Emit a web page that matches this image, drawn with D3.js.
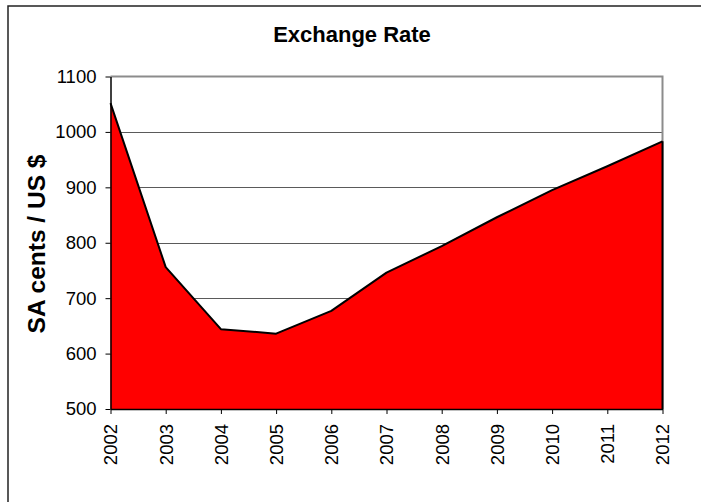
<!DOCTYPE html>
<html>
<head>
<meta charset="utf-8">
<script src="https://cdn.jsdelivr.net/npm/d3@7"></script>
<style>
  body { margin: 0; background: #fff; }
  text { font-family: "Liberation Sans", Arial, sans-serif; }
</style>
</head>
<body>
<div id="chart"></div>
<script>
var years = [2002, 2003, 2004, 2005, 2006, 2007, 2008, 2009, 2010, 2011, 2012];
var rates = [1052, 756, 644, 636, 677, 746, 794, 846, 895, 938, 983];
var yTicks = [500, 600, 700, 800, 900, 1000, 1100];

var width = 701, height = 502;
var plotLeft = 110.5, plotRight = 662.5, plotTop = 76.5, plotBottom = 409;

var svg = d3.select("#chart").append("svg")
    .attr("width", width).attr("height", height);

// outer frame (right/bottom edges fall off the picture)
svg.append("rect")
    .attr("x", 8).attr("y", 6)
    .attr("width", 720).attr("height", 520)
    .attr("fill", "none").attr("stroke", "#222").attr("stroke-width", 1.5);

var x = d3.scalePoint().domain(years).range([plotLeft, plotRight]);
var y = d3.scaleLinear().domain([500, 1100]).range([plotBottom, plotTop]);

// gridlines
svg.append("g").selectAll("line")
    .data(yTicks.slice(1, -1))
    .join("line")
    .attr("x1", plotLeft).attr("x2", plotRight)
    .attr("y1", function (d) { return Math.round(y(d)) + 0.5; })
    .attr("y2", function (d) { return Math.round(y(d)) + 0.5; })
    .attr("stroke", "#5a5a5a").attr("stroke-width", 1);

// plot frame top/right in grey
svg.append("path")
    .attr("d", "M" + plotLeft + "," + plotTop + "H" + plotRight + "V" + plotBottom)
    .attr("fill", "none").attr("stroke", "#8c8c8c").attr("stroke-width", 2);

var area = d3.area()
    .x(function (d, i) { return x(years[i]); })
    .y0(y(500))
    .y1(function (d) { return y(d); });

svg.append("path")
    .datum(rates)
    .attr("d", area)
    .attr("fill", "#ff0000");

var line = d3.line()
    .x(function (d, i) { return x(years[i]); })
    .y(function (d) { return y(d); });

svg.append("path")
    .datum(rates)
    .attr("d", line)
    .attr("fill", "none").attr("stroke", "#000").attr("stroke-width", 2)
    .attr("stroke-linejoin", "round");

// right edge of area
svg.append("line")
    .attr("x1", plotRight).attr("x2", plotRight)
    .attr("y1", y(rates[rates.length - 1])).attr("y2", plotBottom)
    .attr("stroke", "#000").attr("stroke-width", 2);

// y axis
var yAxis = svg.append("g")
    .attr("transform", "translate(" + plotLeft + ",0)")
    .call(d3.axisLeft(y).tickValues(yTicks).tickFormat(d3.format("d"))
        .tickSize(5).tickSizeOuter(0).tickPadding(9));
yAxis.select(".domain").attr("stroke", "#000").attr("stroke-width", 1.5);
yAxis.selectAll(".tick line").attr("stroke", "#000");
yAxis.selectAll("text")
    .attr("font-size", 18.5).attr("fill", "#000")
    .attr("font-family", "Liberation Sans, Arial, sans-serif");

// x axis
var xAxis = svg.append("g")
    .attr("transform", "translate(0," + plotBottom + ")")
    .call(d3.axisBottom(x).tickFormat(d3.format("d")).tickSize(5).tickSizeOuter(0));
xAxis.select(".domain").attr("stroke", "#000").attr("stroke-width", 1.5);
xAxis.selectAll(".tick line").attr("stroke", "#000");
xAxis.selectAll("text")
    .attr("font-size", 18.5).attr("fill", "#000")
    .attr("font-family", "Liberation Sans, Arial, sans-serif")
    .attr("transform", "rotate(-90)")
    .attr("text-anchor", "end")
    .attr("x", -15).attr("y", 0)
    .attr("dy", "0.35em");

// title
svg.append("text")
    .attr("x", 352).attr("y", 42)
    .attr("text-anchor", "middle")
    .attr("font-size", 22).attr("font-weight", "bold")
    .text("Exchange Rate");

// y axis title
svg.append("text")
    .attr("transform", "translate(45,244) rotate(-90)")
    .attr("text-anchor", "middle")
    .attr("font-size", 24.5).attr("font-weight", "bold")
    .text("SA cents / US $");
</script>
</body>
</html>
